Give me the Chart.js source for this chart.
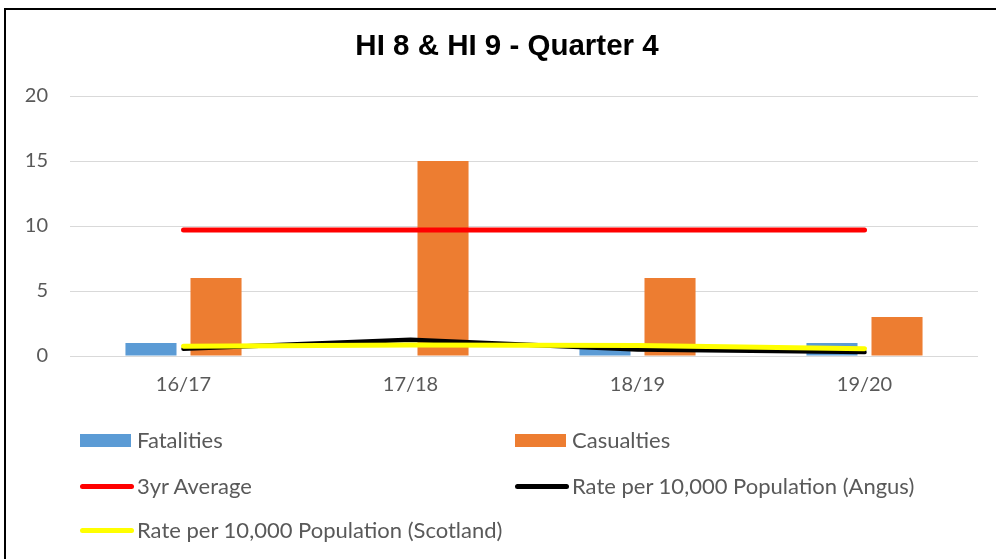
<!DOCTYPE html>
<html>
<head>
<meta charset="utf-8">
<script src="https://cdn.jsdelivr.net/npm/chart.js@4.4.0/dist/chart.umd.min.js"></script>
<style>
  body { margin: 0; background: #fff; }
  #frame { position: absolute; left: 4px; top: 8px; width: 1100px; height: 700px;
           border-left: 2px solid #000; border-top: 2px solid #000; }
  #wrap { position: absolute; left: 0; top: 0; width: 996px; height: 406px; }
  #legend { position: absolute; left: 0; top: 0; width: 996px; height: 559px; pointer-events: none;
            font-family: Lato, sans-serif; font-size: 22px; color: #595959; }
  .sw { position: absolute; }
  .lbl { position: absolute; line-height: 22px; white-space: nowrap; }
</style>
</head>
<body>
<div id="frame"></div>
<div id="wrap"><canvas id="chart" width="996" height="406"></canvas></div>
<div id="legend"></div>
<script>
const seasons = ["16/17", "17/18", "18/19", "19/20"]
const fatalities = [1, 0, 1, 1]
const casualties = [6, 15, 6, 3]
const threeYrAverage = [9.7, 9.7, 9.7, 9.7]
const rateAngus = [0.55, 1.25, 0.5, 0.3]
const rateScotland = [0.75, 0.85, 0.8, 0.56]
const yTicks = [0, 5, 10, 15, 20]

const tickFont = { family: "Lato", size: 20 }
const grey = "#595959"

let ctx = document.getElementById("chart").getContext("2d")
let chart = new Chart(ctx, {
    type: "bar",
    data: {
        labels: seasons,
        datasets: [
            { label: "Fatalities", data: fatalities, backgroundColor: "#5b9bd5",
              categoryPercentage: 0.573, barPercentage: 0.785, order: 3, legendSlot: 0 },
            { label: "Casualties", data: casualties, backgroundColor: "#ed7d31",
              categoryPercentage: 0.573, barPercentage: 0.785, order: 4, legendSlot: 1 },
            { type: "line", label: "3yr Average", data: threeYrAverage,
              borderColor: "#ff0000", backgroundColor: "#ff0000", borderWidth: 5, pointRadius: 0,
              borderCapStyle: "round", tension: 0, order: 2, legendSlot: 2 },
            { type: "line", label: "Rate per 10,000 Population (Angus)", data: rateAngus,
              borderColor: "#000000", backgroundColor: "#000000", borderWidth: 4.5, pointRadius: 0,
              borderCapStyle: "round", tension: 0, order: 1, legendSlot: 3 },
            { type: "line", label: "Rate per 10,000 Population (Scotland)", data: rateScotland,
              borderColor: "#ffff00", backgroundColor: "#ffff00", borderWidth: 5, pointRadius: 0,
              borderCapStyle: "round", tension: 0, order: 0, legendSlot: 4 }
        ]
    },
    options: {
        responsive: false,
        animation: false,
        layout: { padding: { left: 18, right: 0, top: 0, bottom: 0 } },
        plugins: {
            legend: { display: false },
            tooltip: { enabled: false },
            title: {
                display: true,
                text: "HI 8 & HI 9 - Quarter 4",
                color: "#000",
                font: { family: "Liberation Sans", size: 29.5, weight: "bold" },
                padding: { top: 29.3, bottom: 31.3 }
            }
        },
        scales: {
            x: {
                grid: { display: false },
                border: { display: false },
                ticks: { color: grey, font: tickFont, padding: 9 }
            },
            y: {
                min: 0,
                max: 20,
                afterBuildTicks: (scale) => { scale.ticks = yTicks.map(v => ({ value: v })) },
                afterFit: (scale) => { scale.width = 52 },
                grid: { color: "#d9d9d9", lineWidth: 1, drawTicks: false },
                border: { display: false },
                ticks: { color: grey, font: tickFont, padding: 22 }
            },
            // empty right gutter so the plot ends where the original does
            gutter: {
                type: "linear",
                position: "right",
                afterFit: (scale) => { scale.width = 18 },
                grid: { display: false },
                border: { display: false },
                ticks: { display: false }
            }
        }
    }
})

// legend laid out in two columns like the original
const slots = [
    { x: 80, y: 440 }, { x: 515, y: 440 },
    { x: 80, y: 486 }, { x: 515, y: 486 },
    { x: 80, y: 530 }
]
const legend = document.getElementById("legend")
chart.data.datasets.forEach(ds => {
    const s = slots[ds.legendSlot]
    const sw = document.createElement("div")
    sw.className = "sw"
    if (ds.type === "line") {
        sw.style.cssText = `left:${s.x}px;top:${s.y - 2.5}px;width:54px;height:5px;border-radius:3px;background:${ds.borderColor}`
    } else {
        sw.style.cssText = `left:${s.x}px;top:${s.y - 6.5}px;width:51px;height:13px;background:${ds.backgroundColor}`
    }
    const lbl = document.createElement("div")
    lbl.className = "lbl"
    lbl.textContent = ds.label
    lbl.style.left = (s.x + 57) + "px"
    lbl.style.top = (s.y - 11) + "px"
    legend.appendChild(sw)
    legend.appendChild(lbl)
})
</script>
</body>
</html>
